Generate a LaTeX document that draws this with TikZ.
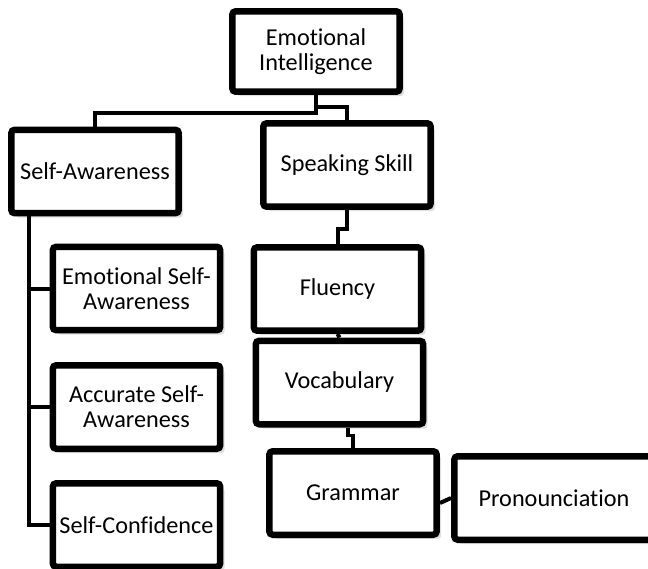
\documentclass[tikz,border=0pt]{standalone}
\usepackage{fontspec}
\setmainfont{Carlito}[Ligatures=NoCommon]
\usetikzlibrary{shadows,calc}

\begin{document}
\begin{tikzpicture}
    [x=0.02cm,y=-0.02cm,
    box/.style={draw=black,line width=0.13cm,fill=white,rounded corners=2pt,
        minimum width=3.35cm,minimum height=1.67cm,inner sep=2pt,align=center,
        font=\fontsize{13.8}{14.4}\selectfont,
        drop shadow={shadow xshift=2.5pt,shadow yshift=-2.5pt,opacity=0.25}},
    link/.style={black,line width=0.08cm}]

\path[use as bounding box,clip] (0,0) rectangle (648,568);

%top of the tree
\node[box,minimum height=1.61cm] (ei) at (316,51.5) {Emotional\\Intelligence};

%left branch
\node[box] (sa) at (95,171.5) {Self-Awareness};
\node[box] (esa) at (136.5,288.5) {Emotional Self-\\Awareness};
\node[box] (asa) at (136.5,407) {Accurate Self-\\Awareness};
\node[box] (sc) at (136.5,525) {Self-Confidence};

%right branch
\node[box] (ss) at (347,165) {Speaking Skill};
\node[box] (fl) at (337.5,289) {Fluency};
\node[box] (vo) at (339.5,382.5) {Vocabulary};
\node[box] (gr) at (353,493) {Grammar};
\node[box,minimum width=3.99cm] (pr) at (554,498) {Pronounciation};

%connect top to both branches
\draw[link] (ei.south) -- ++(0,18) -| (sa.north);
\draw[link] (ei.south) -- ++(0,12) -| (ss.north);

%left branch links
\draw[link] (sa.south west) ++(21,0) |- (sc.west);
\foreach \n in {esa,asa}
    \draw[link] (sa.south west) ++(21,0) |- (\n.west);

%right branch links
\draw[link] (ss.south) -- ++(0,19) -| (fl.north);
\draw[link] (fl.south) -- (vo.north);
\draw[link] (vo.south) ++(8,0) -- ++(0,8) -| (gr.north);
\draw[link] ($(gr.east)+(0,10)$) -- (pr.west);

\end{tikzpicture}
\end{document}
